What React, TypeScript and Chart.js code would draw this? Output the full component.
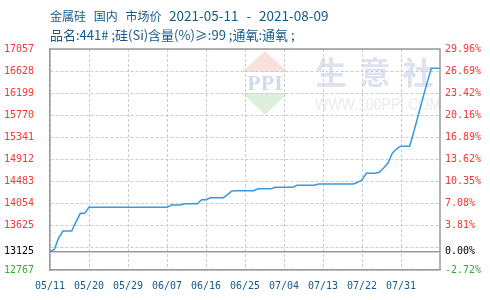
import React, { useEffect, useRef } from "react";
import { Chart, registerables } from "chart.js";

Chart.register(...registerables);

const titleProduct = "金属硅 国内 市场价 ";
const titleDates = "2021-05-11 - 2021-08-09";
const titleLine2 = "品名:441# ;硅(Si)含量(%)≥:99 ;通氧:通氧 ;";

const basePrice = 13125;
const yMin = 12767;
const yMax = 17057;
const yTicks = [12767, 13125, 13196, 13625, 14054, 14483, 14912, 15341, 15770, 16199, 16628, 17057];
const leftTickLabels = ["12767", "13125", "", "13625", "14054", "14483", "14912", "15341", "15770", "16199", "16628", "17057"];
const rightTickLabels = ["-2.72%", "0.00%", "", "3.81%", "7.08%", "10.35%", "13.62%", "16.89%", "20.16%", "23.42%", "26.69%", "29.96%"];

const xTickPositions = [0, 9, 18, 27, 36, 45, 54, 63, 72, 81];
const xTickLabels = ["05/11", "05/20", "05/29", "06/07", "06/16", "06/25", "07/04", "07/13", "07/22", "07/31"];
const dayCount = 90;

const prices = [
  13125, 13165, 13390, 13524, 13524, 13524, 13700, 13867, 13867, 13984,
  13984, 13984, 13984, 13984, 13984, 13984, 13984, 13984, 13984, 13984,
  13984, 13984, 13984, 13984, 13984, 13984, 13984, 13984, 14029, 14029,
  14029, 14054, 14054, 14054, 14054, 14132, 14132, 14170, 14170, 14170,
  14170, 14230, 14300, 14306, 14306, 14306, 14306, 14306, 14345, 14345,
  14345, 14345, 14372, 14372, 14372, 14372, 14372, 14411, 14411, 14411,
  14411, 14411, 14436, 14436, 14436, 14436, 14436, 14436, 14436, 14436,
  14436, 14469, 14514, 14644, 14644, 14644, 14665, 14747, 14844, 15034,
  15120, 15170, 15170, 15170, 15465, 15776, 16088, 16397, 16682, 16682,
  16682,
];

const RED = "#ff3333";
const GREEN = "#33aa33";
const BLACK = "#000000";
const AXIS = "#999999";
const GRID = "#cccccc";
const BLUE_TEXT = "#155a8a";
const LINE = "#3a98dc";
const TICK_FONT = { family: "'DejaVu Sans Mono', monospace", size: 10 };

function tickColor(v: number) {
  if (Math.abs(v - basePrice) < 0.5) return BLACK;
  return v > basePrice ? RED : GREEN;
}

function tickIndex(v: any) {
  return yTicks.indexOf(Number(v));
}

const framePlugin = {
  id: "frame",
  beforeDraw(chart: any) {
    const { ctx } = chart;
    ctx.save();
    ctx.fillStyle = "#fbe1dd";
    ctx.beginPath();
    ctx.moveTo(265, 51);
    ctx.lineTo(288, 72);
    ctx.lineTo(242, 72);
    ctx.closePath();
    ctx.fill();
    ctx.fillStyle = "#ddf0de";
    ctx.beginPath();
    ctx.moveTo(242, 93);
    ctx.lineTo(288, 93);
    ctx.lineTo(265, 115);
    ctx.closePath();
    ctx.fill();
    ctx.fillStyle = "#d3dbea";
    ctx.font = "bold 22px 'Liberation Serif', serif";
    ctx.textAlign = "center";
    ctx.textBaseline = "middle";
    ctx.fillText("PPI", 265, 84, 46);
    ctx.fillStyle = "#dde2ee";
    ctx.font = "bold 31px 'Noto Sans CJK SC', sans-serif";
    ctx.fillText("生", 331, 72);
    ctx.fillText("意", 375, 72);
    ctx.fillText("社", 418, 72);
    ctx.fillStyle = "#ebebeb";
    ctx.font = "16px 'Liberation Sans', sans-serif";
    ctx.textAlign = "left";
    ctx.fillText("WWW.100PPI.COM", 315, 106, 126);
    ctx.restore();
  },
  afterDraw(chart: any) {
    const { ctx, chartArea } = chart;
    ctx.save();
    ctx.strokeStyle = AXIS;
    ctx.lineWidth = 1.5;
    ctx.beginPath();
    ctx.moveTo(chartArea.left, chartArea.top);
    ctx.lineTo(chartArea.right, chartArea.top);
    ctx.lineTo(chartArea.right, chartArea.bottom);
    ctx.stroke();
    ctx.restore();
  },
};

export default function App() {
  const canvasRef = useRef<HTMLCanvasElement | null>(null);

  useEffect(() => {
    const canvas = canvasRef.current;
    if (!canvas) return;
    const chart = new Chart(canvas, {
      type: "line",
      data: {
        datasets: [
          {
            data: prices.map((p, i) => ({ x: i, y: p })),
            borderColor: LINE,
            borderWidth: 1.5,
            pointRadius: 0,
            tension: 0,
            fill: false,
          },
        ],
      },
      options: {
        animation: false,
        responsive: false,
        maintainAspectRatio: false,
        layout: { padding: { top: 49, bottom: 10, left: 0, right: 0 } },
        plugins: { legend: { display: false }, tooltip: { enabled: false } },
        scales: {
          x: {
            type: "linear",
            min: 0,
            max: dayCount,
            afterBuildTicks: (scale: any) => {
              scale.ticks = xTickPositions.map((v) => ({ value: v }));
            },
            afterFit: (scale: any) => {
              scale.height = 20;
            },
            ticks: {
              autoSkip: false,
              maxRotation: 0,
              padding: 10,
              color: BLUE_TEXT,
              font: TICK_FONT,
              callback: (v: any) => {
                const idx = xTickPositions.indexOf(Number(v));
                return idx >= 0 ? xTickLabels[idx] : "";
              },
            },
            grid: { color: GRID, lineWidth: 1, drawTicks: false },
            border: { display: true, color: AXIS, width: 1.5, dash: [3, 2] },
          },
          y: {
            position: "left",
            min: yMin,
            max: yMax,
            afterBuildTicks: (scale: any) => {
              scale.ticks = yTicks.map((v) => ({ value: v }));
            },
            afterFit: (scale: any) => {
              scale.width = 50;
            },
            ticks: {
              autoSkip: false,
              padding: 16,
              font: TICK_FONT,
              color: (ctx: any) => tickColor(ctx.tick ? ctx.tick.value : 0),
              callback: (v: any) => {
                const i = tickIndex(v);
                return i >= 0 ? leftTickLabels[i] : "";
              },
            },
            grid: {
              drawTicks: false,
              color: (ctx: any) => (ctx.tick && ctx.tick.value === basePrice ? AXIS : GRID),
              lineWidth: (ctx: any) => (ctx.tick && ctx.tick.value === basePrice ? 1.5 : 1),
            },
            border: {
              display: true,
              color: AXIS,
              width: 1.5,
              dash: (ctx: any) => (ctx.tick && ctx.tick.value === basePrice ? [] : [3, 2]),
            },
          },
          y2: {
            position: "right",
            min: yMin,
            max: yMax,
            afterBuildTicks: (scale: any) => {
              scale.ticks = yTicks.map((v) => ({ value: v }));
            },
            afterFit: (scale: any) => {
              scale.width = 50;
            },
            ticks: {
              autoSkip: false,
              padding: 5,
              font: TICK_FONT,
              color: (ctx: any) => tickColor(ctx.tick ? ctx.tick.value : 0),
              callback: (v: any) => {
                const i = tickIndex(v);
                return i >= 0 ? rightTickLabels[i] : "";
              },
            },
            grid: { drawOnChartArea: false, drawTicks: false },
            border: { display: false },
          },
        },
      },
      plugins: [framePlugin],
    } as any);
    return () => chart.destroy();
  }, []);

  const titleStyle: React.CSSProperties = {
    position: "absolute",
    left: 50,
    fontFamily: "'Noto Sans CJK SC', sans-serif",
    fontSize: 13,
    lineHeight: "16px",
    color: BLUE_TEXT,
    whiteSpace: "pre",
  };

  return (
    <div style={{ position: "fixed", left: 0, top: 0, width: 490, height: 300, background: "#ffffff" }}>
      <canvas ref={canvasRef} width={490} height={300} style={{ position: "absolute", left: 0, top: 0, width: 490, height: 300 }} />
      <div style={{ ...titleStyle, top: 7, fontSize: 12, wordSpacing: 5 }}>
        {titleProduct}
        <span style={{ fontSize: 13.5 }}>{titleDates}</span>
      </div>
      <div style={{ ...titleStyle, top: 27 }}>{titleLine2}</div>
    </div>
  );
}
